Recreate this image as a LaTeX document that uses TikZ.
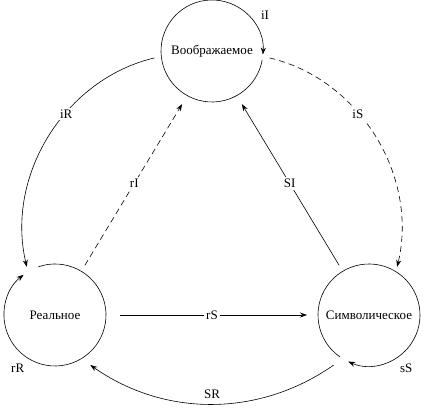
\documentclass[tikz,border=0pt]{standalone}
\usepackage{fontspec}
\setmainfont{Liberation Serif}
\usetikzlibrary{calc, arrows.meta}

\begin{document}
\begin{tikzpicture}[x=1pt, y=1pt, line width=0.6pt, >={Stealth[length=7pt,width=5pt]}, font=\fontsize{13}{15}\selectfont]
    \tikzset{
        ring/.style={circle, minimum size=102pt, inner sep=0pt, outer sep=0pt},
        lbl/.style={fill=white, inner sep=2pt},
        dashline/.style={dash pattern=on 6pt off 4pt}
    }
    \useasboundingbox (0,0) rectangle (424,419);

    \node[ring] (imag) at (212,368) {Воображаемое};
    \node[ring] (real) at (55,104) {Реальное};
    \node[ring] (symb) at (369,104) {Символическое};

    % loops
    \draw[->] (imag.-10) arc[start angle=-10, delta angle=-354, radius=51pt];
    \draw[->] (real.109) arc[start angle=109, delta angle=-341, radius=51pt];
    \draw[->] (symb.-125) arc[start angle=-125, delta angle=-349, radius=51pt];
    \node (iI) at ($(imag)+(34:64)$) {iI};
    \node (rR) at ($(real)+(235:65)$) {rR};
    \node (sS) at ($(symb)+(-55:65)$) {sS};

    % connectors
    \draw[->, shorten <=7pt, shorten >=5pt] (imag.186) to[bend right=45] node[lbl, pos=.4] {iR} (real.122);
    \draw[->, dashline, shorten <=7pt, shorten >=5pt] (imag.-6) to[bend left=45] node[lbl, pos=.4] {iS} (symb.58);
    \draw[->, dashline, shorten <=7pt, shorten >=10pt] (real.59) -- node[lbl] {rI} (imag.241);
    \draw[->, shorten <=7pt, shorten >=10pt] (symb.121) -- node[lbl] {SI} (imag.299);
    \draw[->, shorten <=14pt, shorten >=11pt] (real.east) -- node[lbl] {rS} (symb.west);
    \draw[->, shorten <=11pt, shorten >=11pt] (symb.239) to[bend left=35] node[above=0pt] {SR} (real.301);
\end{tikzpicture}
\end{document}
